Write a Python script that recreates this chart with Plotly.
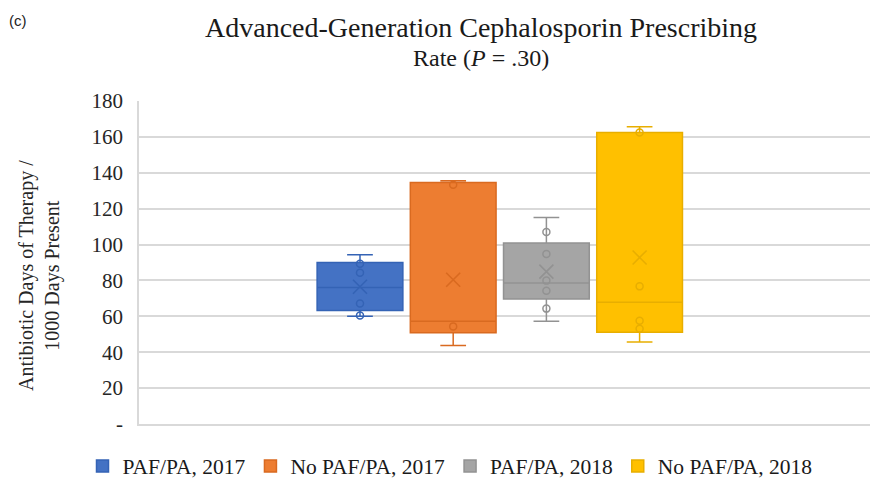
import plotly.graph_objects as go

# ---- data ----
series_names = ["PAF/PA, 2017", "No PAF/PA, 2017", "PAF/PA, 2018", "No PAF/PA, 2018"]
positions = [1, 2, 3, 4]
lower_whisker = [60.0, 43.7, 57.2, 45.7]
q1_values = [63.2, 50.8, 69.7, 51.1]
median_values = [76.0, 57.2, 78.6, 67.8]
q3_values = [90.0, 134.6, 100.8, 162.4]
upper_whisker = [94.3, 135.5, 115.1, 165.7]
mean_values = [76.5, 80.4, 84.9, 92.8]
points_paf_2017 = [89.3, 84.3, 67.1, 60.5]
points_nopaf_2017 = [133.3, 54.4]
points_paf_2018 = [107.0, 94.7, 79.9, 74.3, 64.3]
points_nopaf_2018 = [162.4, 76.7, 57.6, 53.1]
inner_points = [points_paf_2017, points_nopaf_2017, points_paf_2018, points_nopaf_2018]
y_tick_values = [0, 20, 40, 60, 80, 100, 120, 140, 160, 180]
y_tick_labels = ["-", "20", "40", "60", "80", "100", "120", "140", "160", "180"]

fill_colors = ["#4472C4", "#ED7D31", "#A5A5A5", "#FFC000"]
line_colors = ["#3463B5", "#D96A20", "#929292", "#E8AE00"]

SERIF = "Liberation Serif"
W, H = 883, 489
L, R, T, B = 139, 13, 101, 65
PW, PH = W - L - R, H - T - B


def px_x(x):
    return (x - L) / PW


def px_y(y):
    return (H - B - y) / PH


fig = go.Figure()
for i in range(4):
    fig.add_trace(go.Box(
        name=series_names[i],
        x=[positions[i]],
        q1=[q1_values[i]], median=[median_values[i]], q3=[q3_values[i]],
        lowerfence=[lower_whisker[i]], upperfence=[upper_whisker[i]],
        width=0.92, whiskerwidth=0.3,
        fillcolor=fill_colors[i],
        line=dict(color=line_colors[i], width=1.5),
        boxpoints=False, hoverinfo="skip",
    ))
for i in range(4):
    fig.add_trace(go.Scatter(
        x=[positions[i]] * len(inner_points[i]), y=inner_points[i],
        mode="markers", showlegend=False, hoverinfo="skip",
        marker=dict(symbol="circle-open", size=7, color=line_colors[i],
                    line=dict(width=1.5, color=line_colors[i])),
    ))
    fig.add_trace(go.Scatter(
        x=[positions[i]], y=[mean_values[i]],
        mode="markers", showlegend=False, hoverinfo="skip",
        marker=dict(symbol="x-thin-open", size=14, color=line_colors[i],
                    line=dict(width=1.6, color=line_colors[i])),
    ))

fig.update_layout(
    width=W, height=H,
    margin=dict(l=L, r=R, t=T, b=B, autoexpand=False),
    paper_bgcolor="white", plot_bgcolor="white",
    showlegend=True,
    legend=dict(
        orientation="h", xref="container", x=450 / W, xanchor="center",
        yref="container", y=1 - 466 / H, yanchor="middle",
        font=dict(family=SERIF, size=21.5, color="#1a1a1a"),
        bgcolor="rgba(0,0,0,0)",
    ),
    xaxis=dict(
        range=[-1.371, 6.472], showgrid=False, zeroline=False,
        showticklabels=False, ticks="", showline=True, automargin=False,
        linecolor="#d9d9d9", linewidth=1.5,
    ),
    yaxis=dict(
        range=[0, 180], tickvals=y_tick_values, ticktext=y_tick_labels,
        showgrid=True, gridcolor="#d9d9d9", gridwidth=1.5, zeroline=False,
        showline=True, linecolor="#d9d9d9", linewidth=1.5, automargin=False,
        ticks="", ticklabelstandoff=10,
        tickfont=dict(family=SERIF, size=21, color="#262626"),
    ),
    annotations=[
        dict(text="(c)", x=px_x(7), xanchor="left", y=px_y(20), yanchor="middle",
             xref="paper", yref="paper", showarrow=False,
             font=dict(family="Liberation Sans", size=15, color="#222222")),
        dict(text="Advanced-Generation Cephalosporin Prescribing",
             x=px_x(481), xanchor="center", y=px_y(27), yanchor="middle",
             xref="paper", yref="paper", showarrow=False,
             font=dict(family=SERIF, size=28, color="#1a1a1a")),
        dict(text="Rate (<i>P</i> = .30)",
             x=px_x(481), xanchor="center", y=px_y(58), yanchor="middle",
             xref="paper", yref="paper", showarrow=False,
             font=dict(family=SERIF, size=24, color="#1a1a1a")),
        dict(text="Antibiotic Days of Therapy /<br>1000 Days Present",
             x=px_x(39), xanchor="center", y=px_y(276), yanchor="middle",
             xref="paper", yref="paper", textangle=-90, showarrow=False,
             font=dict(family=SERIF, size=20, color="#262626")),
    ],
)

fig.write_html(
    "out.html",
    config={"displayModeBar": False},
    post_script="document.body.style.margin='0';document.body.style.overflow='hidden';",
)
